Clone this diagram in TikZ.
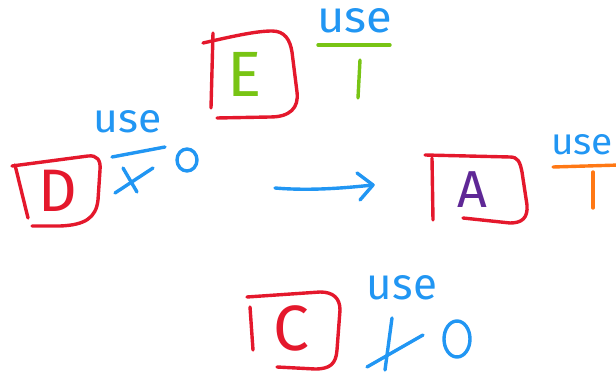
\documentclass[tikz,border=0pt]{standalone}
\usepackage{fontspec}
\setmainfont{Fira Sans}
\definecolor{penred}{RGB}{228,24,44}
\definecolor{penblue}{RGB}{33,150,243}
\definecolor{pengreen}{RGB}{120,196,20}
\definecolor{penorange}{RGB}{255,120,20}
\definecolor{penpurple}{RGB}{95,40,150}
\newcommand{\bigletter}[2]{{\fontsize{#1}{#1}\selectfont #2}}
\newcommand{\usenote}[2]{\resizebox{#1}{#2}{use}}
\begin{document}
\begin{tikzpicture}[x=1pt,y=-1pt,
  pen/.style={line width=3.4pt,line cap=round,line join=round},
  letter/.style={inner sep=0pt,outer sep=0pt},
  note/.style={inner sep=0pt,outer sep=0pt,text=penblue}]
\useasboundingbox (0,0) rectangle (616,379);
\clip (0,0) rectangle (616,379);

% ---- E with use = 1
\draw[pen,penred] (213,33) -- (211,108);
\draw[pen,penred] (203,43) .. controls (230,37) and (255,31) .. (272,31)
  .. controls (285,31) and (290,40) .. (292,52) -- (297,92)
  .. controls (299,108) and (290,117) .. (270,117) -- (217,118);
\node[letter,text=pengreen] (E) at (245,74) {\bigletter{64}{E}};
\node[note] (useE) at (355,21) {\usenote{75pt}{24pt}};
\draw[pen,pengreen] (318,45) -- (390,45);
\draw[pen,pengreen] (360,60) -- (358,98);

% ---- D with use = 1 crossed out, now 0
\draw[pen,penred] (15,165) -- (28,218);
\draw[pen,penred] (12,166) -- (88,156) .. controls (97,155) and (101,160) .. (100,170)
  -- (98,200) .. controls (96,218) and (85,225) .. (60,226) -- (32,226);
\node[letter,text=penred] (D) at (58,191) {\bigletter{60}{D}};
\node[note] (useD) at (128,122) {\usenote{68pt}{22pt}};
\draw[pen,penblue] (112,157) -- (165,147);
\draw[pen,penblue] (115,193) -- (153,168);
\draw[pen,penblue] (123,168) -- (137,192);
\draw[pen,penblue] (187,160) ellipse[x radius=10,y radius=11];

% ---- arrow
\coordinate (arrS) at (275,188);
\coordinate (arrE) at (373,185);
\draw[pen,penblue] (arrS) .. controls (310,191) and (345,188) .. (arrE);
\draw[pen,penblue] ([shift={(-16,-12)}]arrE) -- (arrE) -- ([shift={(-13,15)}]arrE);

% ---- A with use = 1
\draw[pen,penred] (432,158) -- (433,220);
\draw[pen,penred] (425,155) -- (510,157) .. controls (518,157) and (520,162) .. (522,172)
  -- (527,205) .. controls (528,218) and (522,223) .. (510,223) -- (463,218);
\node[letter,text=penpurple] (A) at (472,190) {\bigletter{52}{A}};
\node[note] (useA) at (582,145) {\usenote{62pt}{20pt}};
\draw[pen,penorange] (553,167) -- (620,165);
\draw[pen,penorange] (593,172) -- (593,208);

% ---- C with use = 1 crossed out, now 0
\draw[pen,penred] (250,307) -- (253,350);
\draw[pen,penred] (247,297) -- (320,292) .. controls (333,292) and (340,298) .. (340,310)
  -- (337,350) .. controls (336,364) and (330,369) .. (315,369) -- (277,367);
\node[letter,text=penred] (C) at (291,328) {\bigletter{64}{C}};
\node[note] (useC) at (402,288) {\usenote{70pt}{24pt}};
\draw[pen,penblue] (392,318) -- (385,370);
\draw[pen,penblue] (367,367) -- (423,335);
\draw[pen,penblue] (457,339) ellipse[x radius=13,y radius=18];
\end{tikzpicture}
\end{document}
